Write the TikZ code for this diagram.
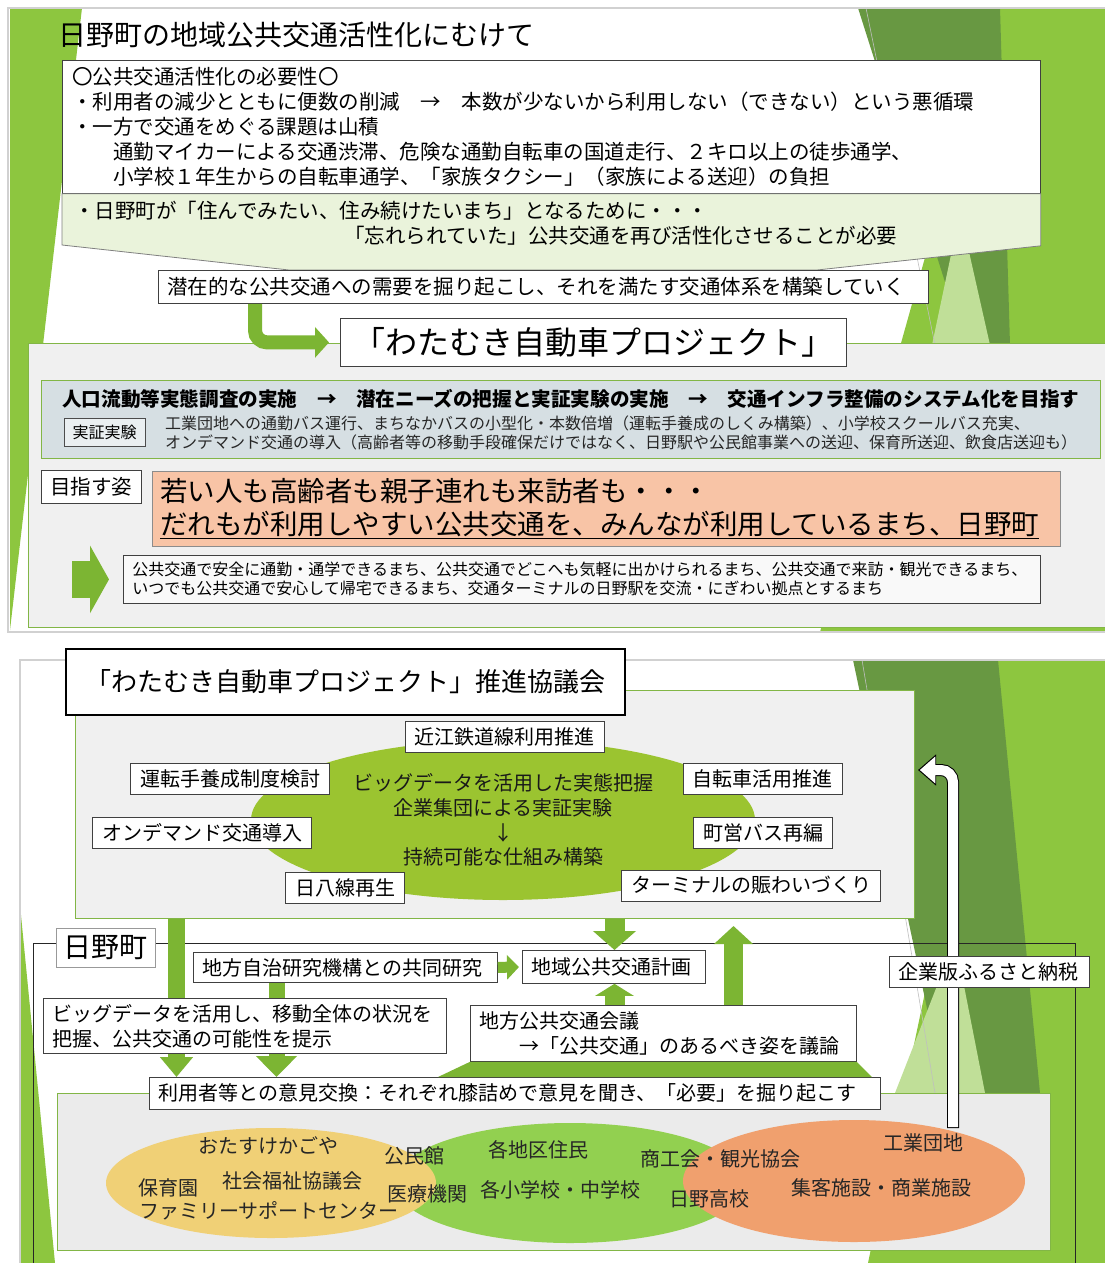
\documentclass[tikz,border=0pt]{standalone}
\usepackage{fontspec}
\setmainfont{Noto Sans CJK JP}
\usetikzlibrary{arrows.meta, positioning, calc, shapes.geometric}
\definecolor{arrowgreen}{RGB}{124,181,51}
\definecolor{panelline}{RGB}{130,182,70}
\definecolor{panelgray}{RGB}{240,240,240}
\definecolor{steelgray}{RGB}{214,223,227}
\definecolor{wishgreen}{RGB}{234,243,219}
\definecolor{salmon}{RGB}{248,196,166}
\definecolor{hubgreen}{RGB}{155,196,48}
\definecolor{folkyellow}{RGB}{240,208,118}
\definecolor{folkgreen}{RGB}{146,208,80}
\definecolor{folkorange}{RGB}{240,160,110}
\definecolor{decolime}{RGB}{141,198,63}
\definecolor{decodark}{RGB}{104,152,66}
\definecolor{decolight}{RGB}{192,223,152}
\newcommand\fsz[2]{\fontsize{#1pt}{#2pt}\selectfont}

\begin{document}
\begin{tikzpicture}[x=1pt, y=-1pt,
  box/.style={draw=black!75, fill=white, line width=0.8pt, inner xsep=9pt, inner ysep=3pt, align=left, anchor=north west, font=\fsz{20}{25}},
  tag/.style={draw=black!75, fill=white, line width=0.8pt, inner xsep=9.5pt, minimum height=31pt, font=\fsz{20}{24}},
  panel/.style={draw=panelline, fill=panelgray, line width=1pt, anchor=north west},
  folktxt/.style={font=\fsz{20}{24}, text=black!85, inner sep=0pt},
  slideline/.style={draw=black!18, line width=1.2pt}
]
  \useasboundingbox (0,0) rectangle (1105,1263);
  \fill[white] (0,0) rectangle (1105,1263);

  \fill[decolime] (10,8) -- (82,8) -- (10,630) -- cycle;
  \fill[decolime] (995,8) -- (1105,8) -- (1105,632) -- (820,632) -- cycle;
  \fill[decodark] (858,8) -- (1000,8) -- (1010,345) -- (965,345) -- cycle;
  \fill[decolight] (932,345) -- (960,212) -- (990,345) -- cycle;
  \draw[black!25, line width=0.6pt] (866,8) -- (935,345);
  \draw[slideline] (1110,632) -- (8,632) -- (8,8) -- (1110,8);

  \fill[decolime] (20,905) -- (20,1263) -- (55,1263) -- cycle;
  \fill[decolime] (995,660) -- (1105,660) -- (1105,1263) -- (868,1263) -- cycle;
  \fill[decodark] (853,660) -- (998,660) -- (1040,1093) -- (945,1093) -- cycle;
  \fill[decolight] (895,1093) -- (955,940) -- (985,1093) -- cycle;
  \draw[black!25, line width=0.6pt] (862,660) -- (935,1093);
  \draw[slideline] (1110,1270) -- (20,1270) -- (20,660) -- (1110,660);

  \node[anchor=west, font=\fsz{28}{32}, inner sep=0pt] (title1) at (58,35) {日野町の地域公共交通活性化にむけて};
  \node[box, text width=958pt, minimum height=133pt, inner xsep=10pt, font=\fsz{20.5}{25}] (need) at (62,60) {〇公共交通活性化の必要性〇\\・利用者の減少とともに便数の削減　→　本数が少ないから利用しない（できない）という悪循環\\・一方で交通をめぐる課題は山積\\　　通勤マイカーによる交通渋滞、危険な通勤自転車の国道走行、２キロ以上の徒歩通学、\\　　小学校１年生からの自転車通学、「家族タクシー」（家族による送迎）の負担};
  \filldraw[fill=wishgreen, draw=black!50, line width=0.8pt] (need.south west) -- (need.south east) -- ++(0,52) -- (817,270) -- (289,270) -- (62,245) -- cycle;
  \node[anchor=north west, align=left, font=\fsz{20.5}{25}, inner sep=0pt] (wish) at (74,201) {・日野町が「住んでみたい、住み続けたいまち」となるために・・・\\\hspace*{270pt}「忘れられていた」公共交通を再び活性化させることが必要};
  \node[box, text width=752pt, minimum height=33pt, font=\fsz{20.5}{24}] (latent) at (158,270) {潜在的な公共交通への需要を掘り起こし、それを満たす交通体系を構築していく};

  \node[panel, minimum width=1090pt, minimum height=284pt] (project) at (28,343) {};
  \node[box, align=center, font=\fsz{32}{36}, minimum width=506pt, minimum height=48pt, inner xsep=0pt] (proj) at (340,318) {「わたむき自動車プロジェクト」};
  \coordinate (bend) at (255,0);
  \draw[arrowgreen, line width=14pt, rounded corners=12pt, -{Triangle[width=30pt,length=14pt]}, shorten >=11pt] (latent.south -| bend) |- (proj.west);

  \node[panel, fill=steelgray, minimum width=1059pt, minimum height=78pt] (plan) at (41,380) {};
  \node[anchor=west, font=\bfseries\fsz{19.6}{24}, inner sep=0pt] (steps) at (62,399) {人口流動等実態調査の実施　→　潜在ニーズの把握と実証実験の実施　→　交通インフラ整備のシステム化を目指す};
  \node[draw=black!70, fill=steelgray!50!white, font=\fsz{16}{19}, inner xsep=8.5pt, minimum height=28pt, anchor=north west] (demo) at (64,418) {実証実験};
  \node[anchor=north west, align=left, font=\fsz{16}{19}, inner sep=0pt, text=black!85] (demotxt) at (165,416) {工業団地への通勤バス運行、まちなかバスの小型化・本数倍増（運転手養成のしくみ構築）、小学校スクールバス充実、\\オンデマンド交通の導入（高齢者等の移動手段確保だけではなく、日野駅や公民館事業への送迎、保育所送迎、飲食店送迎も）};

  \node[box, font=\fsz{20.5}{24}, minimum height=33pt] (aim) at (41,470) {目指す姿};
  \node[box, fill=salmon, draw=black!45, text width=892pt, minimum height=75pt, inner xsep=8pt, font=\fsz{27.5}{33}] (vision) at (152,471) {若い人も高齢者も親子連れも来訪者も・・・\\\underline{だれもが利用しやすい公共交通を、みんなが利用しているまち、日野町}};
  \node[box, fill=panelgray!40!white, text width=899pt, minimum height=48pt, font=\fsz{16}{19}] (towns) at (123,555) {公共交通で安全に通勤・通学できるまち、公共交通でどこへも気軽に出かけられるまち、公共交通で来訪・観光できるまち、\\いつでも公共交通で安心して帰宅できるまち、交通ターミナルの日野駅を交流・にぎわい拠点とするまち};
  \coordinate (goarrow) at (72,0);
  \draw[arrowgreen, line width=37pt, -{Triangle[width=67pt,length=19pt]}, shorten >=14pt] (towns.west -| goarrow) -- (towns.west);

  \node[panel, minimum width=839pt, minimum height=228pt] (council) at (75,690) {};
  \node[ellipse, fill=hubgreen, minimum width=504pt, minimum height=160pt, inner sep=0pt, align=center, font=\fsz{20}{24.7}, text=black!90] (hub) at (503,820) {ビッグデータを活用した実態把握\\企業集団による実証実験\\↓\\持続可能な仕組み構築};
  \node[tag] (rail) at (504.5,736.5) {近江鉄道線利用推進};
  \node[tag] (driver) at (230,779) {運転手養成制度検討};
  \node[tag] (bike) at (762.5,779) {自転車活用推進};
  \node[tag] (demand) at (202,833) {オンデマンド交通導入};
  \node[tag] (bus) at (763,833) {町営バス再編};
  \node[tag] (line) at (345,888) {日八線再生};
  \node[tag] (terminal) at (751,885.5) {ターミナルの賑わいづくり};
  \node[box, draw=black, line width=1.5pt, align=center, font=\fsz{26}{30}, minimum width=559pt, minimum height=66pt, inner xsep=0pt] (title2) at (65,648) {「わたむき自動車プロジェクト」推進協議会};

  \node[draw=black!85, line width=1pt, minimum width=1042pt, minimum height=330pt, anchor=north west] (town) at (33,943) {};
  \node[panel, fill=black!8, minimum width=993pt, minimum height=157pt] (folk) at (57,1093) {};
  \node[ellipse, fill=folkgreen, minimum width=352pt, minimum height=120pt] (residents) at (570,1183) {};
  \node[ellipse, fill=folkyellow, minimum width=330pt, minimum height=110pt] (care) at (271,1183) {};
  \node[ellipse, fill=folkorange, minimum width=342pt, minimum height=122pt] (biz) at (854,1181) {};
  \node[folktxt] (otasuke) at (268,1146) {おたすけかごや};
  \node[folktxt] (welfare) at (292,1181) {社会福祉協議会};
  \node[folktxt] (nursery) at (168,1188) {保育園};
  \node[folktxt] (family) at (269,1211) {ファミリーサポートセンター};
  \node[folktxt] (hall) at (414,1156) {公民館};
  \node[folktxt] (clinic) at (427,1194) {医療機関};
  \node[folktxt] (people) at (538,1150) {各地区住民};
  \node[folktxt] (schools) at (560,1190) {各小学校・中学校};
  \node[folktxt] (commerce) at (720,1159) {商工会・観光協会};
  \node[folktxt] (highschool) at (709,1199) {日野高校};
  \node[folktxt] (park) at (923,1143) {工業団地};
  \node[folktxt] (shops) at (881,1188) {集客施設・商業施設};

  \node[box, text width=286pt, minimum height=30pt] (research) at (193,952) {地方自治研究機構との共同研究};
  \node[box, text width=165pt, minimum height=33pt] (localplan) at (522,950) {地域公共交通計画};
  \node[box, text width=368pt, minimum height=56pt] (meeting) at (470,1005) {地方公共交通会議\\　　→「公共交通」のあるべき姿を議論};
  \node[box, text width=713pt, minimum height=32pt] (talk) at (149,1077) {利用者等との意見交換：それぞれ膝詰めで意見を聞き、「必要」を掘り起こす};

  \coordinate (leftbar) at (176.5,0);
  \coordinate (midbar) at (276.5,0);
  \coordinate (planbar) at (614.5,0);
  \coordinate (upbar) at (733.5,0);
  \coordinate (trapL) at (438,0);
  \coordinate (trapR) at (872,0);
  \draw[arrowgreen, line width=17pt, -{Triangle[width=32pt,length=20pt]}] (council.south -| leftbar) -- (talk.north -| leftbar);
  \draw[arrowgreen, line width=16pt, -{Triangle[width=40pt,length=21pt]}] (research.south -| midbar) -- (talk.north -| midbar);
  \draw[arrowgreen, line width=20pt, -{Triangle[width=42pt,length=19pt]}] (council.south -| planbar) -- (localplan.north -| planbar);
  \draw[arrowgreen, line width=20pt, -{Triangle[width=38pt,length=12pt]}] (meeting.north -| planbar) -- (localplan.south -| planbar);
  \draw[arrowgreen, line width=19pt, -{Triangle[width=38pt,length=18pt]}, shorten >=7pt] (meeting.north -| upbar) -- (council.south -| upbar);
  \draw[arrowgreen, line width=11pt, -{Triangle[width=24pt,length=12pt]}, shorten >=3pt] (research.east) -- (localplan.west);
  \fill[arrowgreen] (meeting.south west) -- (meeting.south east) -- (talk.north -| trapR) -- (talk.north -| trapL) -- cycle;

  \coordinate (taxfoot) at (953,1128);
  \coordinate (taxtip) at (918,770);
  \draw[black, line width=12pt, rounded corners=12pt, -{Triangle[width=30pt,length=18pt]}] (taxfoot) |- (taxtip);
  \draw[white, line width=10pt, rounded corners=12pt, -{Triangle[width=26pt,length=15.5pt]}, shorten >=1.8pt, shorten <=1pt] (taxfoot) |- (taxtip);

  \node[box, text width=385pt, minimum height=55pt] (bigdata) at (43,998) {ビッグデータを活用し、移動全体の状況を\\把握、公共交通の可能性を提示};
  \node[box, text width=182pt, minimum height=31pt] (tax) at (889,956) {企業版ふるさと納税};
  \node[box, draw=black!40, font=\fsz{28}{32}, minimum height=39pt, inner xsep=7.5pt] (townlbl) at (56,928) {日野町};
\end{tikzpicture}
\end{document}
